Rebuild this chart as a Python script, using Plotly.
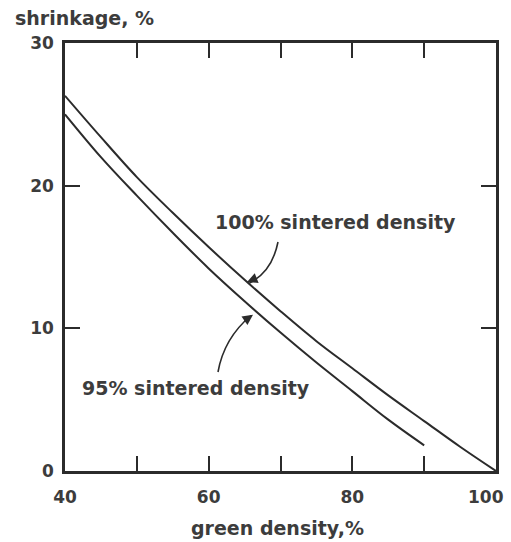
import plotly.graph_objects as go

# Data
green_density_full = [40, 45, 50, 55, 60, 65, 70, 75, 80, 85, 90, 95, 100]
shrink_100 = [26.3, 23.4, 20.6, 18.1, 15.7, 13.4, 11.2, 9.1, 7.2, 5.3, 3.5, 1.7, 0.0]
green_density_95 = [40, 45, 50, 55, 60, 65, 70, 75, 80, 85, 90]
shrink_95 = [25.0, 22.0, 19.3, 16.7, 14.2, 11.9, 9.7, 7.6, 5.6, 3.6, 1.8]

x_tickvals = [40, 50, 60, 70, 80, 90, 100]
x_ticktext = ["40", "", "60", "", "80", "", ""]
last_x_label = "100"  # drawn as an annotation so it stays inside the page
y_tickvals = [0, 10, 20, 30]
y_ticktext = ["0", "10", "20", "30"]

INK = "#2b2b2b"
TXT = "#3c3c3c"
FONT = "DejaVu Sans"

fig = go.Figure()
fig.add_trace(go.Scatter(x=green_density_full, y=shrink_100, mode="lines",
                         line=dict(color=INK, width=2, shape="spline", smoothing=1.0),
                         name="100% sintered density", showlegend=False))
fig.add_trace(go.Scatter(x=green_density_95, y=shrink_95, mode="lines",
                         line=dict(color=INK, width=2, shape="spline", smoothing=1.0),
                         name="95% sintered density", showlegend=False))

axis_common = dict(showgrid=False, zeroline=False, showline=True, linecolor=INK,
                   linewidth=2.5, mirror="ticks", ticks="inside", ticklen=15,
                   tickwidth=2, tickcolor=INK, ticklabeloverflow="allow",
                   automargin=False,
                   tickfont=dict(family=FONT, size=17, color=TXT, weight="bold"))

fig.update_xaxes(range=[40, 100], tickmode="array", tickvals=x_tickvals,
                 ticktext=x_ticktext, ticklabelstandoff=9, **axis_common)
fig.update_yaxes(range=[0, 30], tickmode="array", tickvals=y_tickvals,
                 ticktext=y_ticktext, ticklabelstandoff=5, **axis_common)

# curved arrow stems
fig.add_shape(type="path", xref="x", yref="y",
              path="M 69.65 16.05 Q 68.82 13.95 65.6 13.15",
              line=dict(color=INK, width=1.6))
fig.add_shape(type="path", xref="x", yref="y",
              path="M 61.30 6.94 Q 62.14 9.32 65.9 10.9",
              line=dict(color=INK, width=1.6))

annotations = [
    dict(x=65.34, y=13.25, xref="x", yref="y", text="", showarrow=True,
         arrowhead=2, arrowsize=1.3, arrowwidth=1.6, arrowcolor=INK,
         ax=10, ay=-4),
    dict(x=66.17, y=10.95, xref="x", yref="y", text="", showarrow=True,
         arrowhead=2, arrowsize=1.3, arrowwidth=1.6, arrowcolor=INK,
         ax=-10, ay=7),
    dict(x=77.6, y=17.45, xref="x", yref="y", text="100% sintered density",
         showarrow=False, font=dict(family=FONT, size=19, color=TXT, weight="bold")),
    dict(x=58.24, y=5.82, xref="x", yref="y", text="95% sintered density",
         showarrow=False, font=dict(family=FONT, size=19, color=TXT, weight="bold")),
    dict(x=-0.1206, y=1.058, xref="paper", yref="paper", text="shrinkage, %",
         xanchor="left", yanchor="middle", showarrow=False,
         font=dict(family=FONT, size=19, color=TXT, weight="bold")),
    dict(x=0.494, y=-0.133, xref="paper", yref="paper", text="green density,%",
         xanchor="center", yanchor="middle", showarrow=False,
         font=dict(family=FONT, size=19, color=TXT, weight="bold")),
    dict(x=x_tickvals[-1], y=-0.0607, xref="x", yref="paper", text=last_x_label,
         xanchor="right", yanchor="middle", xshift=10, showarrow=False,
         font=dict(family=FONT, size=17, color=TXT, weight="bold")),
]

fig.update_layout(width=511, height=542, margin=dict(l=65, r=15, t=43, b=71),
                  paper_bgcolor="white", plot_bgcolor="white",
                  annotations=annotations, showlegend=False)

fig.write_html("out.html")
